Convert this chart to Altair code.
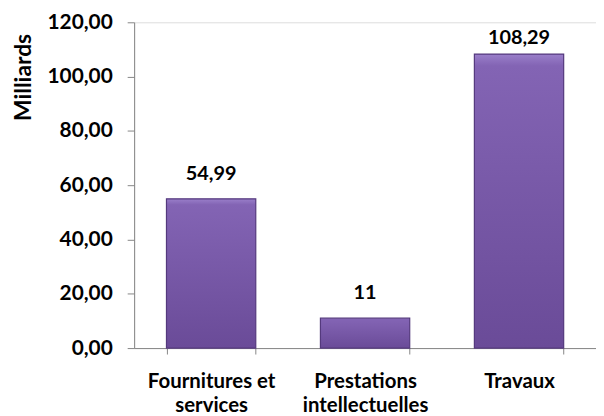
import altair as alt
import pandas as pd

categories = ["Fournitures et services", "Prestations intellectuelles", "Travaux"]
values = [54.99, 11.0, 108.29]
value_labels = ["54,99", "11", "108,29"]
y_ticks = [0, 20, 40, 60, 80, 100, 120]

df = pd.DataFrame({"cat": categories, "val": values, "lab": value_labels})

FONT = "Lato"
x_label_expr = ("datum.value == 'Fournitures et services' ? ['Fournitures et', 'services'] : "
                "datum.value == 'Prestations intellectuelles' ? ['Prestations', 'intellectuelles'] : datum.value")

x = alt.X("cat:N", sort=categories,
          scale=alt.Scale(paddingInner=0.42, paddingOuter=0.21),
          axis=alt.Axis(title=None, labelAngle=0, labelExpr=x_label_expr,
                        labelFont=FONT, labelFontSize=20.5, labelFontWeight="bold",
                        labelColor="black", labelPadding=18, labelLineHeight=24,
                        domainColor="#868686", tickColor="#868686", tickSize=6,
                        tickBand="extent", labelBaseline="top"))

y = alt.Y("val:Q",
          scale=alt.Scale(domain=[0, 120], nice=False),
          axis=alt.Axis(title="Milliards", values=y_ticks, grid=False,
                        labelExpr="replace(format(datum.value, '.2f'), '.', ',')",
                        labelFont=FONT, labelFontSize=21, labelFontWeight="bold",
                        labelColor="black", labelPadding=15,
                        domainColor="#868686", tickColor="#868686", tickSize=7,
                        titleFont=FONT, titleFontSize=23, titleFontWeight="bold",
                        titleColor="black", titleAngle=-90, titleX=-122, titleY=55,
                        titleAlign="center", titleBaseline="top"))

bars = alt.Chart(df).mark_bar(
    color=alt.Gradient(gradient="linear", x1=0, x2=0, y1=0, y2=1,
                       stops=[alt.GradientStop(offset=0, color="#9a7fca"),
                              alt.GradientStop(offset=0.04, color="#8364b4"),
                              alt.GradientStop(offset=1, color="#6a4b98")]),
    stroke="#54397d", strokeWidth=1.2
).encode(x=x, y=y)

# Excel keeps the label of the tallest bar inside the plot area
labels = alt.Chart(df).transform_calculate(
    ly="min(datum.val + 7, 112)"
).mark_text(
    font=FONT, fontSize=20, fontWeight="bold", color="black",
    baseline="alphabetic"
).encode(x=alt.X("cat:N", sort=categories), y="ly:Q", text="lab:N")

chart = alt.layer(bars, labels).properties(
    width=465, height=328,
    autosize=alt.AutoSizeParams(type="none"),
    padding={"left": 127, "top": 13, "right": 0, "bottom": 67},
).configure_view(stroke=None).configure(background="white")

chart.save("out.html", embed_options={"renderer": "svg", "actions": False})
